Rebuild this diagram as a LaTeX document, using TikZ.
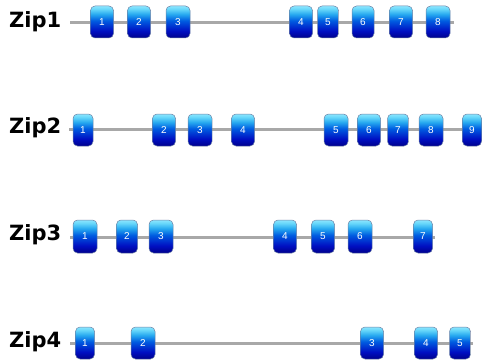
\documentclass[tikz,border=0pt]{standalone}
\usepackage{fontspec}
\setmainfont{Liberation Sans}
\newfontfamily\ziplabelfont{DejaVu Sans}
\pgfdeclareverticalshading{zipshade}{100bp}{rgb(0bp)=(0,0,0.55); rgb(25bp)=(0,0,0.55); rgb(36bp)=(0,0.06,0.76); rgb(52bp)=(0,0.36,0.88); rgb(62bp)=(0.15,0.66,0.94); rgb(70bp)=(0.4,0.84,0.98); rgb(75bp)=(0.55,0.9,1); rgb(100bp)=(0.55,0.9,1)}
\definecolor{zipline}{RGB}{168,168,168}
\definecolor{zipedge}{RGB}{110,130,165}
\tikzset{
  zipbox/.style={rounded corners=4.5pt, shading=zipshade, draw=zipedge, line width=0.5pt,
    minimum height=32pt, inner sep=0pt, text=white,
    font=\fontsize{10}{11}\selectfont},
  ziplabel/.style={anchor=base west, inner sep=0pt, font=\ziplabelfont\bfseries\fontsize{21}{23}\selectfont},
  backbone/.style={draw=zipline, line width=3pt}
}
\begin{document}
\begin{tikzpicture}[x=1pt,y=-1pt]
\useasboundingbox (0,0) rectangle (482,361);
% labels
\node[ziplabel] (l1) at (9,27.5) {Zip1};
\node[ziplabel] (l2) at (9,133.5) {Zip2};
\node[ziplabel] (l3) at (9,240.7) {Zip3};
\node[ziplabel] (l4) at (9,347.7) {Zip4};
% backbones
\coordinate (s1) at (70,22.5); \coordinate (e1) at (454,22.5);
\coordinate (s2) at (69,129); \coordinate (e2) at (482,129);
\coordinate (s3) at (70,237); \coordinate (e3) at (435,237);
\coordinate (s4) at (70,343); \coordinate (e4) at (473,343);
\draw[backbone] (s1) -- (e1);
\draw[backbone] (s2) -- (e2);
\draw[backbone] (s3) -- (e3);
\draw[backbone] (s4) -- (e4);
% row 1
\foreach \x/\w [count=\i] in {102/23,139/23,178/24,301/23,328/21,363/22,401/23,438/24}
  \node[zipbox, minimum width=\w pt] (a\i) at (\x,22) {\i};
% row 2
\foreach \x/\w [count=\i] in {83/20,164/23,200/24,243/23,336/24,369/23,398/21,431/24,472/19}
  \node[zipbox, minimum width=\w pt] (b\i) at (\x,130) {\i};
% row 3
\foreach \x/\w [count=\i] in {85/24,127/21,161/24,285/23,323/23,360/24,423/19}
  \node[zipbox, minimum width=\w pt, minimum height=33pt] (c\i) at (\x,236.5) {\i};
% row 4
\foreach \x/\w [count=\i] in {85/19,143/24,372/23,426/23,460/21}
  \node[zipbox, minimum width=\w pt] (d\i) at (\x,343) {\i};
\end{tikzpicture}
\end{document}
